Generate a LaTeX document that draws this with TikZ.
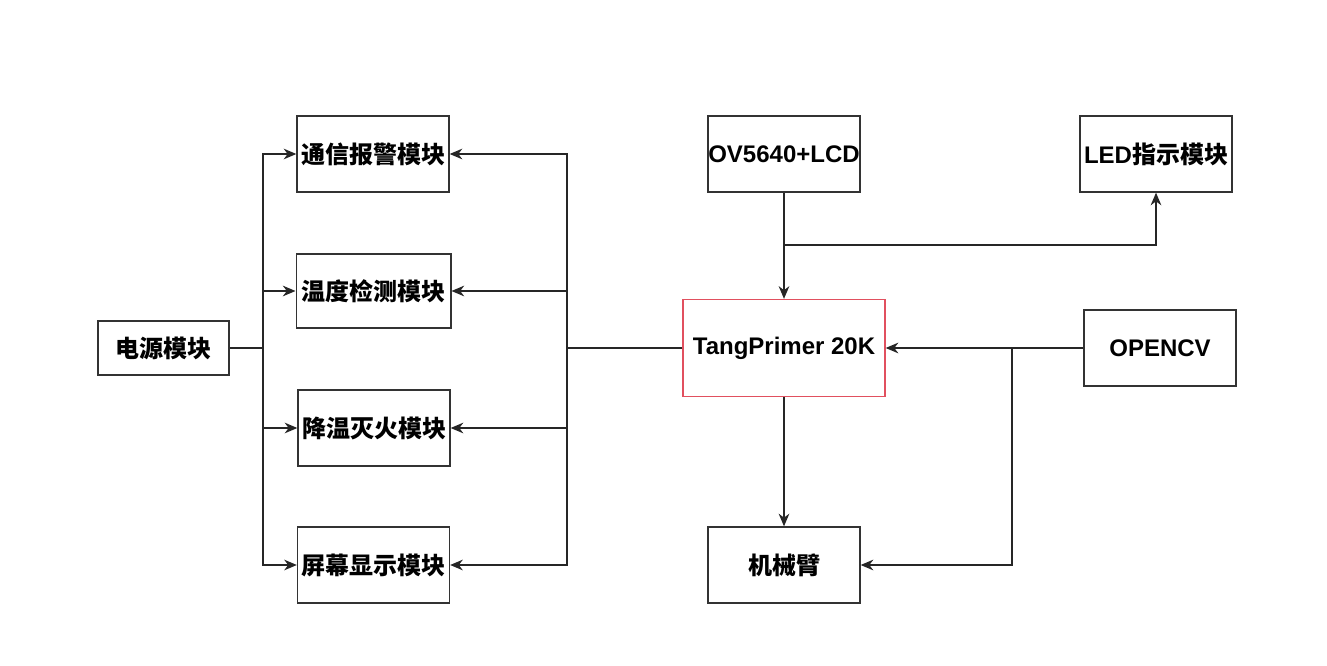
\documentclass[tikz,border=0pt]{standalone}
\usepackage{fontspec}
\setmainfont{Liberation Sans}
\newfontfamily\cjk{Noto Sans CJK SC}
\usetikzlibrary{arrows.meta}
\tikzset{
  box/.style={draw=black!80, line width=1pt, minimum width=114pt, minimum height=57pt, inner sep=0pt, font=\fontsize{18pt}{20pt}\selectfont\bfseries},
  arr/.style={-{Stealth[length=9.5pt,width=8pt,inset=3pt]}, line width=1pt, draw=black!85},
  ln/.style={line width=1pt, draw=black!85},
}
\begin{document}
\begin{tikzpicture}[x=0.75pt,y=-0.75pt]
\useasboundingbox (0,0) rectangle (1327,666);
\node[box, minimum width=98.25pt, minimum height=40.5pt] (pw) at (163.5,348) {\cjk\bfseries 电源模块};
\node[box] (m1) at (373,154) {\cjk\bfseries 通信报警模块};
\node[box, minimum width=116pt, minimum height=55.5pt] (m2) at (373.5,291) {\cjk\bfseries 温度检测模块};
\node[box] (m3) at (374,428) {\cjk\bfseries 降温灭火模块};
\node[box] (m4) at (373.5,565) {\cjk\bfseries 屏幕显示模块};
\node[box] (ov) at (784,154) {OV5640+LCD};
\node[box] (led) at (1156,154) {LED{\cjk\bfseries 指示模块}};
\node[box, draw={rgb,255:red,225;green,80;blue,95}, minimum width=151.5pt, minimum height=72.75pt] (tp) at (784,348) {TangPrimer 20K};
\node[box] (cv) at (1160,348) {OPENCV};
\node[box] (arm) at (784,565) {\cjk\bfseries 机械臂};
% left bus
\coordinate (busL) at (263,348);
\draw[ln] (pw) -- (busL);
\draw[arr] (busL) |- (m1);
\draw[arr] (busL) |- (m2);
\draw[arr] (busL) |- (m3);
\draw[arr] (busL) |- (m4);
% right bus
\coordinate (busR) at (567,348);
\draw[ln] (tp) -- (busR);
\draw[arr] (busR) |- (m1);
\draw[arr] (busR) |- (m2);
\draw[arr] (busR) |- (m3);
\draw[arr] (busR) |- (m4);
% camera
\draw[arr] (ov) -- (tp);
\coordinate (j1) at (784,245);
\draw[arr] (j1) -| (led);
% opencv
\draw[arr] (cv) -- (tp);
\coordinate (j2) at (1012,348);
\draw[arr] (j2) |- (arm);
\draw[arr] (tp) -- (arm);
\end{tikzpicture}
\end{document}
